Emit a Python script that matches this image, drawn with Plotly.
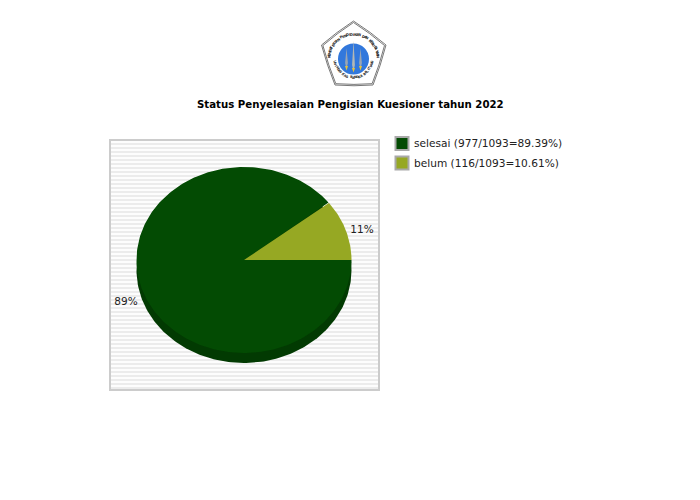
import numpy as np
import plotly.graph_objects as go

# ---- data ----
CATEGORIES = ["selesai", "belum"]
VALUES = [977, 116]
COLORS = ["#034b03", "#96a823"]
SHADOW = "#023a02"
TITLE = "Status Penyelesaian Pengisian Kuesioner tahun 2022"
LEGEND_TEXTS = ["selesai (977/1093=89.39%)", "belum (116/1093=10.61%)"]
PCT_LABELS = ["89%", "11%"]
LOGO_TOP = "KEMENTERIAN PENDIDIKAN DAN KEBUDAYAAN"
LOGO_BOTTOM = "UNIVERSITAS BANGKA BELITUNG"

# ---- geometry of the picture (window pixels); the page has an 8 px body margin ----
PAGE_W, PAGE_H, OFF = 700, 500, 8
W, H = PAGE_W - OFF, PAGE_H - OFF
PL, PR, PT, PB = 110.5, 378, 140.5, 389
CX, CY, RX, RY = 244, 260, 107.5, 93
DEPTH = 10 / RY
FONT = "DejaVu Sans"

def fx(px):
    return (px - OFF) / W

def fy(px):
    return 1 - (px - OFF) / H

fractions = np.array(VALUES) / sum(VALUES)
edges = -2 * np.pi * np.concatenate([[0], np.cumsum(fractions)])  # clockwise from east

fig = go.Figure()

for i in range(len(VALUES)):
    t = np.linspace(edges[i], edges[i + 1], 240)
    fig.add_trace(go.Scatter(
        x=np.cos(t), y=np.sin(t) - DEPTH, mode="lines", fill="toself",
        fillcolor=SHADOW, line=dict(width=0), hoverinfo="skip", showlegend=False))
for i in range(len(VALUES)):
    t = np.linspace(edges[i], edges[i + 1], 240)
    fig.add_trace(go.Scatter(
        x=np.r_[0, np.cos(t), 0], y=np.r_[0, np.sin(t), 0], mode="lines", fill="toself",
        fillcolor=COLORS[i], line=dict(width=0), name=CATEGORIES[i],
        hoverinfo="skip", showlegend=False))

# percent labels
LABEL_XY = [(126, 302), (362, 230)]
fig.add_trace(go.Scatter(
    x=[p[0] for p in LABEL_XY], y=[p[1] for p in LABEL_XY], xaxis="x2", yaxis="y2",
    mode="text", text=PCT_LABELS, textfont=dict(family=FONT, size=10.5, color="#222"),
    hoverinfo="skip", showlegend=False))

# legend swatches and texts
SW_X, SW_Y = 402, [143.5, 163]
fig.add_trace(go.Scatter(
    x=[SW_X] * 2, y=SW_Y, xaxis="x2", yaxis="y2", mode="markers",
    marker=dict(symbol="square", size=13, color=COLORS, line=dict(color="#a9a9a9", width=2)),
    hoverinfo="skip", showlegend=False))
fig.add_trace(go.Scatter(
    x=[414] * 2, y=[y + 1 for y in SW_Y], xaxis="x2", yaxis="y2", mode="text", text=LEGEND_TEXTS,
    textposition="middle right", textfont=dict(family=FONT, size=10.6, color="#222"),
    hoverinfo="skip", showlegend=False))

# ---- logo ----
LX, LY = 353.5, 59
shapes = [dict(type="rect", xref="paper", yref="paper", x0=fx(PL), x1=fx(PR), y0=fy(PB), y1=fy(PT),
               fillcolor="#fdfdfd", line=dict(width=0), layer="below")]

def pent(k):
    pts = [(353.5, 21), (386, 45), (373, 85), (335, 85), (321.5, 45)]
    ox, oy = 353.5, 55
    out = [(ox + (x - ox) * k, oy + (y - oy) * k) for x, y in pts]
    path = f"M{out[0][0]:.1f},{out[0][1]:.1f}"
    for j in range(5):
        a, b = out[j], out[(j + 1) % 5]
        mx, my = (a[0] + b[0]) / 2, (a[1] + b[1]) / 2
        cx, cy = ox + (mx - ox) * 1.05, oy + (my - oy) * 1.05
        path += f" Q{cx:.1f},{cy:.1f} {b[0]:.1f},{b[1]:.1f}"
    return path + " Z"

for k in (1.0, 0.955):
    shapes.append(dict(type="path", path=pent(k), xref="x2", yref="y2",
                       line=dict(color="#555", width=0.8), fillcolor="rgba(255,255,255,0)", layer="above"))
shapes.append(dict(type="circle", xref="x2", yref="y2", x0=LX - 15.5, x1=LX + 15.5, y0=LY - 15.5, y1=LY + 15.5,
                   line=dict(color="#2f6fd8", width=0), fillcolor="#3278dc", layer="above"))
for dx, top, bot, col in [(-7, 48, 69, "#9aa6b4"), (0, 41, 71, "#b4b8b4"), (7, 48, 69, "#9aa6b4")]:
    shapes.append(dict(type="path", xref="x2", yref="y2", layer="above", line=dict(width=0), fillcolor=col,
                       path=f"M{LX+dx:.1f},{top} L{LX+dx+1.4:.1f},{bot-6} L{LX+dx:.1f},{bot} L{LX+dx-1.4:.1f},{bot-6} Z"))
    shapes.append(dict(type="path", xref="x2", yref="y2", layer="above", line=dict(width=0), fillcolor="#e8c33a",
                       path=f"M{LX+dx-1.5:.1f},{bot-3} L{LX+dx+1.5:.1f},{bot-3} L{LX+dx:.1f},{bot+1.5} Z"))

annotations = []

def arc_text(txt, r, a0, a1, top=True, size=3.6):
    angs = np.linspace(a0, a1, len(txt))
    for ch, a in zip(txt, angs):
        rad = np.radians(a)
        x = LX + r * np.sin(rad)
        y = LY - r * np.cos(rad)
        rot = a if top else a - 180
        annotations.append(dict(text=f"<b>{ch}</b>", x=x, y=y, xref="x2", yref="y2", showarrow=False,
                                textangle=float(rot), font=dict(family=FONT, size=size, color="#222"),
                                xanchor="center", yanchor="middle"))

arc_text(LOGO_TOP, 24.5, -85, 85, True)
arc_text(LOGO_BOTTOM, 18.5, 262, 98, False, 3.4)

# title
annotations.append(dict(text=f"<b>{TITLE}</b>", x=350.5, y=104, xref="x2", yref="y2", showarrow=False,
                        font=dict(family=FONT, size=10.2, color="#000"), xanchor="center", yanchor="middle"))

xr = [(PL - CX) / RX, (PR - CX) / RX]
yr = [(CY - PB) / RY, (CY - PT) / RY]
fig.update_layout(
    width=W, height=H, margin=dict(l=0, r=0, t=0, b=0), paper_bgcolor="white", plot_bgcolor="rgba(0,0,0,0)",
    showlegend=False, shapes=shapes, annotations=annotations,
    xaxis=dict(domain=[fx(PL), fx(PR)], range=xr, showgrid=False, zeroline=False, showticklabels=False,
               ticks="", showline=True, mirror=True, linecolor="#cccccc", linewidth=1.5, fixedrange=True, anchor="y"),
    yaxis=dict(domain=[fy(PB), fy(PT)], range=yr, showgrid=True, gridcolor="#ececec", gridwidth=2,
               dtick=4 / RY, tick0=0, zeroline=False, showticklabels=False, ticks="",
               showline=True, mirror=True, linecolor="#cccccc", linewidth=1.5, fixedrange=True, anchor="x"),
    xaxis2=dict(domain=[0, 1], range=[OFF, PAGE_W], anchor="y2", visible=False, fixedrange=True),
    yaxis2=dict(domain=[0, 1], range=[PAGE_H, OFF], anchor="x2", visible=False, fixedrange=True),
)
fig.write_html("out.html", config=dict(displayModeBar=False))
